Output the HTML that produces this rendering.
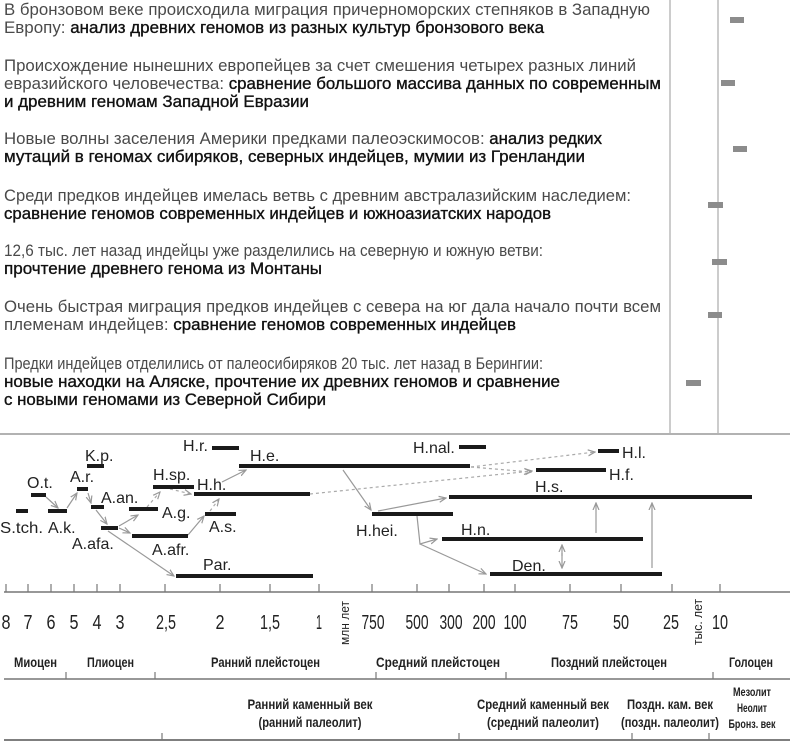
<!DOCTYPE html>
<html><head><meta charset="utf-8"><style>
html,body{margin:0;padding:0;background:#fff;width:790px;height:741px;overflow:hidden}
svg{display:block}
.t{font-family:"Liberation Sans","DejaVu Sans",sans-serif;font-size:17px;fill:#4a4a4a}
.b{fill:#111;stroke:#111;stroke-width:0.35}
.l{font-family:"Liberation Sans",sans-serif;font-size:16px;fill:#222}
.k{font-family:"Liberation Sans",sans-serif;font-size:20px;fill:#222}
.e{font-family:"Liberation Sans",sans-serif;font-size:14px;fill:#222;font-weight:bold}
.s{font-family:"Liberation Sans",sans-serif;font-size:12px;fill:#222;font-weight:bold}
</style></head><body>
<svg width="790" height="741" viewBox="0 0 790 741" xmlns="http://www.w3.org/2000/svg">
<defs>
<marker id="a" markerWidth="8" markerHeight="8" refX="7" refY="4" orient="auto" markerUnits="userSpaceOnUse"><path d="M0,1 L7,4 L0,7" fill="none" stroke="#999" stroke-width="1.2"/></marker>
</defs>
<g class="t">
<text x="4" y="15" textLength="646" lengthAdjust="spacingAndGlyphs">В бронзовом веке происходила миграция причерноморских степняков в Западную</text>
<text x="4" y="33" textLength="540" lengthAdjust="spacingAndGlyphs">Европу: <tspan class="b">анализ древних геномов из разных культур бронзового века</tspan></text>
<text x="4" y="71" textLength="632" lengthAdjust="spacingAndGlyphs">Происхождение нынешних европейцев за счет смешения четырех разных линий</text>
<text x="4" y="89" textLength="657" lengthAdjust="spacingAndGlyphs">евразийского человечества: <tspan class="b">сравнение большого массива данных по современным</tspan></text>
<text x="4" y="107" textLength="305" lengthAdjust="spacingAndGlyphs" class="b">и древним геномам Западной Евразии</text>
<text x="4" y="144" textLength="598" lengthAdjust="spacingAndGlyphs">Новые волны заселения Америки предками палеоэскимосов: <tspan class="b">анализ редких</tspan></text>
<text x="4" y="162" textLength="581" lengthAdjust="spacingAndGlyphs" class="b">мутаций в геномах сибиряков, северных индейцев, мумии из Гренландии</text>
<text x="4" y="201" textLength="627" lengthAdjust="spacingAndGlyphs">Среди предков индейцев имелась ветвь с древним австралазийским наследием:</text>
<text x="4" y="219" textLength="547" lengthAdjust="spacingAndGlyphs" class="b">сравнение геномов современных индейцев и южноазиатских народов</text>
<text x="4" y="256" textLength="539" lengthAdjust="spacingAndGlyphs">12,6 тыс. лет назад индейцы уже разделились на северную и южную ветви:</text>
<text x="4" y="274" textLength="318" lengthAdjust="spacingAndGlyphs" class="b">прочтение древнего генома из Монтаны</text>
<text x="4" y="312" textLength="657" lengthAdjust="spacingAndGlyphs">Очень быстрая миграция предков индейцев с севера на юг дала начало почти всем</text>
<text x="4" y="330" textLength="512" lengthAdjust="spacingAndGlyphs">племенам индейцев: <tspan class="b">сравнение геномов современных индейцев</tspan></text>
<text x="4" y="369" textLength="539" lengthAdjust="spacingAndGlyphs">Предки индейцев отделились от палеосибиряков 20 тыс. лет назад в Берингии:</text>
<text x="4" y="387" textLength="556" lengthAdjust="spacingAndGlyphs" class="b">новые находки на Аляске, прочтение их древних геномов и сравнение</text>
<text x="4" y="405" textLength="322" lengthAdjust="spacingAndGlyphs" class="b">с новыми геномами из Северной Сибири</text>
</g>
<line x1="670" y1="0" x2="670" y2="433" stroke="#bbb" stroke-width="1.5"/>
<line x1="718" y1="0" x2="718" y2="433" stroke="#bbb" stroke-width="1.5"/>
<g fill="#8c8c8c">
<rect x="730" y="17" width="14" height="6"/>
<rect x="721" y="80" width="14" height="6"/>
<rect x="733" y="146" width="14" height="6"/>
<rect x="708" y="202" width="15" height="6"/>
<rect x="712" y="259" width="15" height="6"/>
<rect x="708" y="312" width="14" height="6"/>
<rect x="686" y="380" width="15" height="6"/>
</g>
<line x1="0" y1="434" x2="790" y2="434" stroke="#999" stroke-width="1.5"/>
<g stroke="#999" stroke-width="1.2" fill="none" marker-end="url(#a)">
<line x1="46" y1="497" x2="58" y2="508"/>
<line x1="67" y1="508" x2="77" y2="493"/>
<line x1="88" y1="493" x2="91" y2="503"/>
<line x1="96" y1="510" x2="107" y2="524"/>
<line x1="119" y1="526" x2="138" y2="515"/>
<line x1="119" y1="528" x2="130" y2="533"/>
<line x1="108" y1="531" x2="174" y2="576"/>
<line x1="188" y1="535" x2="204" y2="516"/>
<line x1="222" y1="482" x2="246" y2="470"/>
<line x1="343" y1="470" x2="371" y2="510"/>
<line x1="378" y1="511" x2="446" y2="498"/>
<polyline points="417,516 420,544 437,539"/>
<line x1="420" y1="544" x2="486" y2="574"/>
<line x1="596" y1="533" x2="596" y2="503"/>
<line x1="652" y1="568" x2="652" y2="503"/>
<line x1="562" y1="553" x2="562" y2="568"/>
<line x1="562" y1="556" x2="562" y2="545"/>
</g>
<g stroke="#aaa" stroke-width="1.2" fill="none" stroke-dasharray="3,3" marker-end="url(#a)">
<line x1="147" y1="507" x2="160" y2="492"/>
<line x1="170" y1="489" x2="191" y2="494"/>
<line x1="210" y1="511" x2="219" y2="499"/>
<line x1="310" y1="494" x2="532" y2="471"/>
<line x1="471" y1="467" x2="595" y2="452"/>
<line x1="471" y1="467" x2="531" y2="472"/>
</g>
<g fill="#1a1a1a">
<rect x="16" y="509" width="12" height="4"/>
<rect x="31" y="493" width="15" height="4"/>
<rect x="48" y="509" width="19" height="4"/>
<rect x="77" y="487" width="11" height="4"/>
<rect x="87" y="464" width="17" height="4"/>
<rect x="91" y="505" width="13" height="4"/>
<rect x="101" y="526" width="17" height="4"/>
<rect x="129" y="507" width="29" height="4"/>
<rect x="153" y="485" width="41" height="4"/>
<rect x="132" y="534" width="56" height="4"/>
<rect x="194" y="492" width="116" height="4"/>
<rect x="205" y="512" width="31" height="4"/>
<rect x="176" y="574" width="137" height="4"/>
<rect x="212" y="446" width="27" height="4"/>
<rect x="239" y="464" width="231" height="4"/>
<rect x="372" y="512" width="81" height="4"/>
<rect x="459" y="445" width="27" height="4"/>
<rect x="598" y="449" width="21" height="4"/>
<rect x="536" y="468" width="70" height="4"/>
<rect x="449" y="495" width="303" height="4"/>
<rect x="442" y="537" width="201" height="4"/>
<rect x="490" y="572" width="172" height="4"/>
</g>
<g class="l">
<text x="0" y="533" textLength="43" lengthAdjust="spacingAndGlyphs">S.tch.</text>
<text x="27" y="488">O.t.</text>
<text x="48" y="533">A.k.</text>
<text x="70" y="482">A.r.</text>
<text x="85" y="461">K.p.</text>
<text x="101" y="503">A.an.</text>
<text x="72" y="549">A.afa.</text>
<text x="162" y="518">A.g.</text>
<text x="153" y="480">H.sp.</text>
<text x="152" y="555">A.afr.</text>
<text x="197" y="490">H.h.</text>
<text x="209" y="532">A.s.</text>
<text x="203" y="570">Par.</text>
<text x="183" y="451">H.r.</text>
<text x="250" y="461">H.e.</text>
<text x="356" y="536">H.hei.</text>
<text x="413" y="453">H.nal.</text>
<text x="622" y="458">H.l.</text>
<text x="609" y="480">H.f.</text>
<text x="535" y="492">H.s.</text>
<text x="461" y="535">H.n.</text>
<text x="512" y="571">Den.</text>
</g>
<line x1="4" y1="592" x2="790" y2="592" stroke="#777" stroke-width="1.5"/>
<g stroke="#777" stroke-width="1.2">
<line x1="6" y1="592" x2="6" y2="584"/><line x1="28" y1="592" x2="28" y2="584"/><line x1="51" y1="592" x2="51" y2="584"/><line x1="74" y1="592" x2="74" y2="584"/><line x1="97" y1="592" x2="97" y2="584"/><line x1="120" y1="592" x2="120" y2="584"/><line x1="165" y1="592" x2="165" y2="584"/><line x1="220" y1="592" x2="220" y2="584"/><line x1="270" y1="592" x2="270" y2="584"/><line x1="319" y1="592" x2="319" y2="584"/><line x1="372" y1="592" x2="372" y2="584"/><line x1="417" y1="592" x2="417" y2="584"/><line x1="449" y1="592" x2="449" y2="584"/><line x1="484" y1="592" x2="484" y2="584"/><line x1="515" y1="592" x2="515" y2="584"/><line x1="570" y1="592" x2="570" y2="584"/><line x1="621" y1="592" x2="621" y2="584"/><line x1="672" y1="592" x2="672" y2="584"/><line x1="720" y1="592" x2="720" y2="584"/>
</g>
<g class="k" text-anchor="middle">
<text x="6" y="629" textLength="9" lengthAdjust="spacingAndGlyphs">8</text>
<text x="28" y="629" textLength="9" lengthAdjust="spacingAndGlyphs">7</text>
<text x="51" y="629" textLength="9" lengthAdjust="spacingAndGlyphs">6</text>
<text x="74" y="629" textLength="9" lengthAdjust="spacingAndGlyphs">5</text>
<text x="97" y="629" textLength="9" lengthAdjust="spacingAndGlyphs">4</text>
<text x="120" y="629" textLength="9" lengthAdjust="spacingAndGlyphs">3</text>
<text x="166" y="629" textLength="20" lengthAdjust="spacingAndGlyphs">2,5</text>
<text x="220" y="629" textLength="9" lengthAdjust="spacingAndGlyphs">2</text>
<text x="270" y="629" textLength="20" lengthAdjust="spacingAndGlyphs">1,5</text>
<text x="319" y="629" textLength="6" lengthAdjust="spacingAndGlyphs">1</text>
<text x="373" y="629" textLength="23" lengthAdjust="spacingAndGlyphs">750</text>
<text x="417" y="629" textLength="23" lengthAdjust="spacingAndGlyphs">500</text>
<text x="451" y="629" textLength="23" lengthAdjust="spacingAndGlyphs">300</text>
<text x="484" y="629" textLength="23" lengthAdjust="spacingAndGlyphs">200</text>
<text x="515" y="629" textLength="23" lengthAdjust="spacingAndGlyphs">100</text>
<text x="570" y="629" textLength="16" lengthAdjust="spacingAndGlyphs">75</text>
<text x="621" y="629" textLength="16" lengthAdjust="spacingAndGlyphs">50</text>
<text x="671" y="629" textLength="16" lengthAdjust="spacingAndGlyphs">25</text>
<text x="720" y="629" textLength="16" lengthAdjust="spacingAndGlyphs">10</text>
</g>
<text class="s" transform="translate(349,645) rotate(-90)" textLength="44" lengthAdjust="spacingAndGlyphs" style="font-weight:normal;font-size:13px">млн лет</text>
<text class="s" transform="translate(702,645) rotate(-90)" textLength="46" lengthAdjust="spacingAndGlyphs" style="font-weight:normal;font-size:13px">тыс. лет</text>
<g class="e">
<text x="14" y="667" textLength="43" lengthAdjust="spacingAndGlyphs">Миоцен</text>
<text x="87" y="667" textLength="47" lengthAdjust="spacingAndGlyphs">Плиоцен</text>
<text x="211" y="667" textLength="109" lengthAdjust="spacingAndGlyphs">Ранний плейстоцен</text>
<text x="376" y="667" textLength="124" lengthAdjust="spacingAndGlyphs">Средний плейстоцен</text>
<text x="551" y="667" textLength="116" lengthAdjust="spacingAndGlyphs">Поздний плейстоцен</text>
<text x="729" y="667" textLength="44" lengthAdjust="spacingAndGlyphs">Голоцен</text>
</g>
<line x1="4" y1="679" x2="790" y2="679" stroke="#777" stroke-width="1.5"/>
<g stroke="#777" stroke-width="1.2">
<line x1="66" y1="679" x2="66" y2="672"/><line x1="155" y1="679" x2="155" y2="672"/><line x1="376" y1="679" x2="376" y2="672"/><line x1="506" y1="679" x2="506" y2="672"/><line x1="713" y1="679" x2="713" y2="672"/>
</g>
<g class="e" text-anchor="middle">
<text x="310" y="709" textLength="125" lengthAdjust="spacingAndGlyphs">Ранний каменный век</text>
<text x="310" y="727" textLength="103" lengthAdjust="spacingAndGlyphs">(ранний палеолит)</text>
<text x="543" y="709" textLength="132" lengthAdjust="spacingAndGlyphs">Средний каменный век</text>
<text x="543" y="727" textLength="112" lengthAdjust="spacingAndGlyphs">(средний палеолит)</text>
<text x="670" y="709" textLength="86" lengthAdjust="spacingAndGlyphs">Поздн. кам. век</text>
<text x="670" y="727" textLength="98" lengthAdjust="spacingAndGlyphs">(поздн. палеолит)</text>
</g>
<g class="s" text-anchor="middle">
<text x="752" y="696" textLength="38" lengthAdjust="spacingAndGlyphs">Мезолит</text>
<text x="752" y="712" textLength="30" lengthAdjust="spacingAndGlyphs">Неолит</text>
<text x="752" y="728" textLength="47" lengthAdjust="spacingAndGlyphs">Бронз. век</text>
</g>
<line x1="4" y1="740" x2="790" y2="740" stroke="#555" stroke-width="1.5"/>
<g stroke="#777" stroke-width="1.2">
<line x1="162" y1="740" x2="162" y2="733"/><line x1="459" y1="740" x2="459" y2="733"/><line x1="632" y1="740" x2="632" y2="733"/><line x1="709" y1="740" x2="709" y2="733"/>
</g>
</svg>
</body></html>
